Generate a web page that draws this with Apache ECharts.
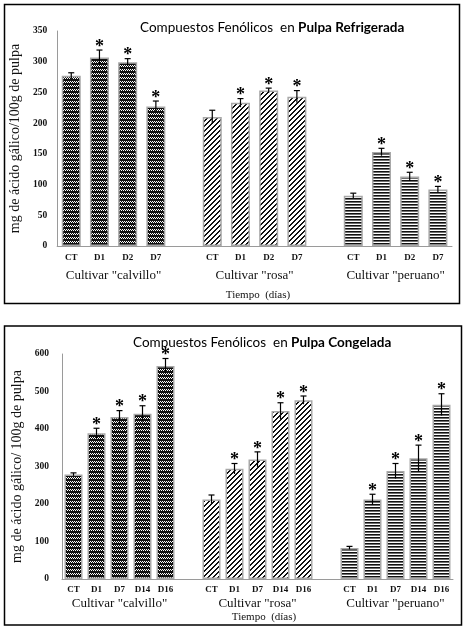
<!DOCTYPE html>
<html>
<head>
<meta charset="utf-8">
<script src="https://cdn.jsdelivr.net/npm/echarts@6/dist/echarts.min.js"></script>
<style>
html,body{margin:0;padding:0;background:#fff}
#main{width:467px;height:630px}
</style>
</head>
<body>
<div id="main"></div>
<script>
//cultivares
var cultivares = ['Cultivar "calvillo"', 'Cultivar "rosa"', 'Cultivar "peruano"'];

//pulpa refrigerada
var diasRef = ['CT', 'D1', 'D2', 'D7'];
var refCalvillo = [277, 307, 299, 227];
var refRosa = [210, 233, 253, 243];
var refPeruano = [82, 153, 113, 92];
var errRefCalvillo = [5, 12, 6, 9];
var errRefRosa = [11, 7, 4, 10];
var errRefPeruano = [4, 6, 7, 5];
var sigRef = [0, 1, 1, 1];
var yTicksRef = [0, 50, 100, 150, 200, 250, 300, 350];

//pulpa congelada
var diasCon = ['CT', 'D1', 'D7', 'D14', 'D16'];
var conCalvillo = [279, 389, 432, 441, 568];
var conRosa = [212, 294, 319, 448, 477];
var conPeruano = [83, 212, 288, 322, 465];
var errConCalvillo = [4, 13, 17, 21, 20];
var errConRosa = [12, 14, 20, 22, 11];
var errConPeruano = [4, 14, 20, 35, 29];
var sigCon = [0, 1, 1, 1, 1];
var yTicksCon = [0, 100, 200, 300, 400, 500, 600];

var SERIF = '"Liberation Serif", "Times New Roman", serif';

//tramas de las barras
function tile(w, h, draw) {
	var c = document.createElement('canvas');
	c.width = w;
	c.height = h;
	var g = c.getContext('2d');
	g.fillStyle = '#fff';
	g.fillRect(0, 0, w, h);
	draw(g, w, h);
	return {image: c, repeat: 'repeat'};
}
var patrones = [
	//calvillo: cuadriculado oscuro
	tile(4, 4, function(g) {
		g.fillStyle = '#111';
		g.fillRect(0, 0, 4, 4);
		g.fillStyle = '#fff';
		g.fillRect(0, 1, 1, 1);
		g.fillRect(2, 1, 1, 1);
		g.fillRect(1, 2, 1, 1);
		g.fillRect(3, 2, 1, 1);
	}),
	//rosa: diagonales, pixel a pixel
	tile(5, 5, function(g, w, h) {
		g.fillStyle = '#111';
		for (var y = 0; y < h; y++) {
			var x0 = (w - 1 - y + w) % w;
			g.fillRect(x0, y, 1, 1);
			g.fillRect((x0 + 1) % w, y, 1, 1);
		}
	}),
	//peruano: horizontales
	tile(4, 3, function(g) {
		g.fillStyle = '#111';
		g.fillRect(0, 0, 4, 1.6);
	})
];

//arma categorias, barras y barras de error
function buildPanel(dias, vals, errs, sig) {
	var cats = [], bars = [], errData = [], centers = [];
	for (var g = 0; g < vals.length; g++) {
		if (g > 0) {
			cats.push('');
			bars.push(null);
		}
		centers.push(cats.length + dias.length / 2);
		for (var i = 0; i < dias.length; i++) {
			errData.push([cats.length, vals[g][i], errs[g][i], sig[i]]);
			cats.push(dias[i]);
			bars.push({value: vals[g][i], itemStyle: {color: patrones[g]}});
		}
	}
	return {cats: cats, bars: bars, err: errData, centers: centers};
}

var pRef = buildPanel(diasRef, [refCalvillo, refRosa, refPeruano],
	[errRefCalvillo, errRefRosa, errRefPeruano], sigRef);
var pCon = buildPanel(diasCon, [conCalvillo, conRosa, conPeruano],
	[errConCalvillo, errConRosa, errConPeruano], sigCon);

function errRender(params, api) {
	var x = api.value(0), v = api.value(1), e = api.value(2), s = api.value(3);
	var top = api.coord([x, v + e]);
	var bot = api.coord([x, v - e]);
	var st = {stroke: '#000', lineWidth: 1.2};
	var children = [
		{type: 'line', shape: {x1: top[0], y1: top[1], x2: bot[0], y2: bot[1]}, style: st},
		{type: 'line', shape: {x1: top[0] - 3, y1: top[1], x2: top[0] + 3, y2: top[1]}, style: st}
	];
	if (s) {
		children.push({
			type: 'text', x: top[0], y: top[1] - 12,
			style: {text: '*', font: 'bold 18px ' + SERIF, fill: '#000', align: 'center', verticalAlign: 'top'}
		});
	}
	return {type: 'group', children: children};
}

function groupLabel(centers) {
	return function(val) {
		for (var i = 0; i < centers.length; i++) {
			if (Math.abs(val - centers[i]) < 0.01) return cultivares[i];
		}
		return '';
	};
}

function catAxis(grid, cats, margin) {
	return {
		gridIndex: grid, type: 'category', position: 'bottom', data: cats,
		axisLine: {lineStyle: {color: '#9a9a9a', width: 1}},
		axisTick: {show: false},
		axisLabel: {interval: 0, margin: margin, fontFamily: SERIF, fontWeight: 'bold', fontSize: 9, color: '#111'}
	};
}
function grpAxis(grid, n, centers, margin) {
	return {
		gridIndex: grid, type: 'value', position: 'bottom', min: 0, max: n, interval: 0.5,
		axisLine: {show: false}, axisTick: {show: false}, splitLine: {show: false},
		axisLabel: {margin: margin, fontFamily: SERIF, fontSize: 13, color: '#111', formatter: groupLabel(centers)}
	};
}
function valAxis(grid, ticks, name, gap, margin) {
	return {
		gridIndex: grid, type: 'value', min: ticks[0], max: ticks[ticks.length - 1],
		interval: ticks[1] - ticks[0],
		name: name, nameLocation: 'middle', nameRotate: 90, nameGap: gap,
		nameTextStyle: {fontFamily: SERIF, fontSize: 14, color: '#111'},
		axisLine: {show: true, lineStyle: {color: '#9a9a9a', width: 1}},
		axisTick: {show: false}, splitLine: {show: false},
		axisLabel: {margin: margin, fontFamily: SERIF, fontWeight: 'bold', fontSize: 9.5, color: '#111'}
	};
}

var titleRich = {
	a: {fontFamily: 'Lato', fontSize: 13.5, fontWeight: 'normal', color: '#000'},
	b: {fontFamily: 'Lato', fontSize: 13.5, fontWeight: 'bold', color: '#000'}
};

var myChart = echarts.init(document.getElementById('main'), null, {renderer: 'canvas'});
var option = {
	backgroundColor: '#fff',
	animation: false,
	title: [
		{left: 135, top: 16, text: '{a|Compuestos Fenólicos  en }{b|Pulpa Refrigerada}', textStyle: {fontWeight: 'normal', rich: titleRich}},
		{left: 128, top: 331, text: '{a|Compuestos Fenólicos  en }{b|Pulpa Congelada}', textStyle: {fontWeight: 'normal', rich: titleRich}}
	],
	grid: [
		{left: 50, top: 31, width: 402, height: 215},
		{left: 62, top: 354, width: 391, height: 225}
	],
	xAxis: [
		catAxis(0, pRef.cats, 7),
		grpAxis(0, pRef.cats.length, pRef.centers, 23),
		catAxis(1, pCon.cats, 6),
		grpAxis(1, pCon.cats.length, pCon.centers, 18)
	],
	yAxis: [
		valAxis(0, yTicksRef, 'mg de ácido gálico/100g de pulpa', 27, 10),
		valAxis(1, yTicksCon, 'mg de ácido gálico/ 100g de pulpa', 38, 13)
	],
	series: [
		{
			type: 'bar', xAxisIndex: 0, yAxisIndex: 0, barWidth: 19, data: pRef.bars,
			itemStyle: {borderColor: '#a8a8a8', borderWidth: 1.5}
		},
		{type: 'custom', xAxisIndex: 0, yAxisIndex: 0, renderItem: errRender, data: pRef.err, z: 5},
		{
			type: 'bar', xAxisIndex: 2, yAxisIndex: 1, barWidth: 18, data: pCon.bars,
			itemStyle: {borderColor: '#a8a8a8', borderWidth: 1.5}
		},
		{type: 'custom', xAxisIndex: 2, yAxisIndex: 1, renderItem: errRender, data: pCon.err, z: 5}
	],
	graphic: [
		{type: 'rect', shape: {x: 4.5, y: 4.5, width: 455, height: 299}, style: {fill: 'none', stroke: '#000', lineWidth: 1.5}},
		{type: 'rect', shape: {x: 4.5, y: 326, width: 457, height: 299}, style: {fill: 'none', stroke: '#000', lineWidth: 1.5}},
		{type: 'text', x: 258, y: 295, style: {text: 'Tiempo  (días)', font: '11px ' + SERIF, fill: '#111', align: 'center', verticalAlign: 'middle'}},
		{type: 'text', x: 264, y: 617, style: {text: 'Tiempo  (días)', font: '11px ' + SERIF, fill: '#111', align: 'center', verticalAlign: 'middle'}}
	]
};
myChart.setOption(option, true);
window.onresize = myChart.resize;
</script>
</body>
</html>
